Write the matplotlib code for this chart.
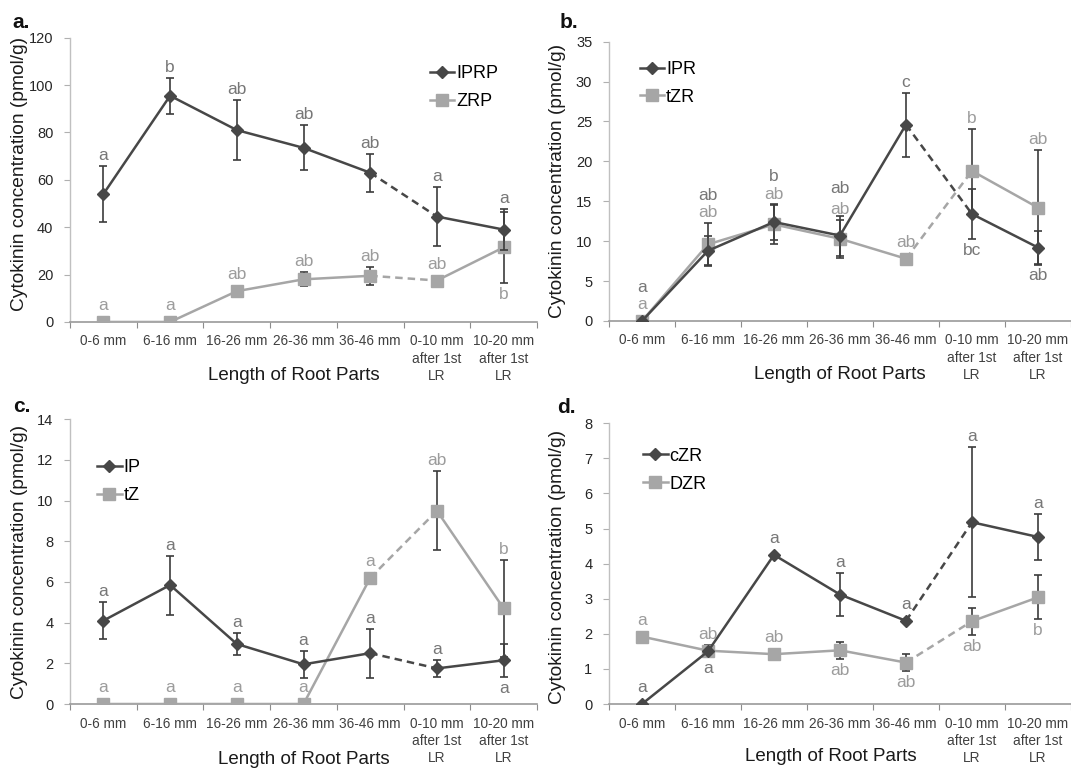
"""
根系不同部位细胞分裂素含量折线图（四个子图 a-d）
"""
import numpy as np
import matplotlib
matplotlib.use('Agg')
import matplotlib.pyplot as plt
from matplotlib.lines import Line2D

plt.rcParams['font.family'] = ['Liberation Sans', 'DejaVu Sans']

# 横轴分类
categories = ['0-6 mm', '6-16 mm', '16-26 mm', '26-36 mm', '36-46 mm',
              '0-10 mm\nafter 1st\nLR', '10-20 mm\nafter 1st\nLR']

# a. IPRP / ZRP
iprp = [54, 95.5, 81, 73.5, 63, 44.5, 39]
iprp_err = [12, 7.5, 12.5, 9.5, 8, 12.5, 8.5]
iprp_let = ['a', 'b', 'ab', 'ab', 'ab', 'a', 'a']
iprp_side = ['u', 'u', 'u', 'u', 'u', 'u', 'u']
zrp = [0, 0, 13, 18, 19.5, 17.5, 31.5]
zrp_err = [0, 0, 0, 3, 3.8, 0, 15]
zrp_let = ['a', 'a', 'ab', 'ab', 'ab', 'ab', 'b']
zrp_side = ['u', 'u', 'u', 'u', 'u', 'u', 'd']

# b. IPR / tZR
ipr = [0, 8.8, 12.4, 10.7, 24.6, 13.4, 9.2]
ipr_err = [0, 1.8, 2.2, 2.5, 4.0, 3.1, 2.1]
ipr_let = ['a', 'ab', 'b', 'ab', 'c', 'bc', 'ab']
ipr_side = ['U', 'U', 'U', 'U', 'u', 'd', 'd']
tzr = [0, 9.6, 12.1, 10.3, 7.8, 18.8, 14.2]
tzr_err = [0, 2.7, 2.4, 2.4, 0, 5.2, 7.2]
tzr_let = ['a', 'ab', 'ab', 'ab', 'ab', 'b', 'ab']
tzr_side = ['u', 'u', 'u', 'u', 'u', 'u', 'u']

# c. IP / tZ
ip = [4.1, 5.85, 2.95, 1.95, 2.5, 1.75, 2.15]
ip_err = [0.9, 1.45, 0.55, 0.65, 1.2, 0.4, 0.8]
ip_let = ['a', 'a', 'a', 'a', 'a', 'a', 'a']
ip_side = ['u', 'u', 'u', 'u', 'u', 'u', 'd']
tz = [0, 0, 0, 0, 6.2, 9.5, 4.7]
tz_err = [0, 0, 0, 0, 0, 1.95, 2.4]
tz_let = ['a', 'a', 'a', 'a', 'a', 'ab', 'b']
tz_side = ['u', 'u', 'u', 'u', 'u', 'u', 'u']

# d. cZR / DZR
czr = [0, 1.5, 4.25, 3.12, 2.37, 5.18, 4.76]
czr_err = [0, 0, 0, 0.6, 0, 2.13, 0.66]
czr_let = ['a', 'a', 'a', 'a', 'a', 'a', 'a']
czr_side = ['u', 'd', 'u', 'u', 'u', 'u', 'u']
dzr = [1.92, 1.52, 1.42, 1.53, 1.18, 2.36, 3.04]
dzr_err = [0, 0.15, 0, 0.25, 0.25, 0.39, 0.63]
dzr_let = ['a', 'ab', 'ab', 'ab', 'ab', 'ab', 'b']
dzr_side = ['u', 'u', 'u', 'd', 'd', 'd', 'd']

DARK = '#474747'
LIGHT = '#a6a6a6'
ERR = '#3c3c3c'
DARK_TXT = '#777777'
LIGHT_TXT = '#9c9c9c'


def draw_series(ax, x, y, err, color, marker, ms, z):
    """画一条折线：第4-5点之间用虚线连接"""
    ax.errorbar(x, y, yerr=err, fmt='none', ecolor=ERR, elinewidth=1.2,
                capsize=3, capthick=1.2, zorder=z)
    ax.plot(x[:5], y[:5], color=color, lw=1.8, zorder=z + 1)
    ax.plot(x[4:6], y[4:6], color=color, lw=1.8, ls=(0, (3, 2)), zorder=z + 1)
    ax.plot(x[5:], y[5:], color=color, lw=1.8, zorder=z + 1)
    ax.plot(x, y, ls='none', marker=marker, ms=ms, color=color,
            mec=color, zorder=z + 2)


def draw_letters(ax, x, series):
    """显著性字母，放在误差线上方或下方"""
    to_px = lambda v: ax.transData.transform((0, v))[1]
    line_px = 17
    gap = 6
    tops = [max(s[0][i] + s[1][i] for s in series) for i in range(len(x))]
    for y, err, lets, sides, col in series:
        for i in range(len(x)):
            v0 = to_px(y[i])
            e_px = max(to_px(y[i] + err[i]) - v0, 6)
            if sides[i] == 'u':
                off = e_px + gap
                va = 'baseline'
            elif sides[i] == 'U':
                off = max(to_px(tops[i]) - v0, 6) + gap + line_px
                va = 'baseline'
            else:
                off = -(e_px + gap - 2)
                va = 'top'
            ax.annotate(lets[i], (x[i], y[i]), xytext=(0, off * 72 / 100),
                        textcoords='offset points', ha='center', va=va,
                        fontsize=12.5, color=col, zorder=10)


def setup_axes(ax, ymax, ystep):
    """Excel 风格坐标轴"""
    n = len(categories)
    ax.set_xlim(-0.5, n - 0.5)
    ax.set_ylim(0, ymax)
    ax.set_yticks(np.arange(0, ymax + ystep / 2, ystep))
    ax.set_xticks(np.arange(-0.5, n, 1))
    ax.set_xticklabels([])
    ax.set_xticks(np.arange(n), minor=True)
    ax.set_xticklabels(categories, minor=True, fontsize=9.8, color='#404040',
                       linespacing=1.3)
    ax.tick_params(axis='x', which='major', length=4, color='#8c8c8c', direction='out')
    ax.tick_params(axis='x', which='minor', length=0, pad=9)
    ax.tick_params(axis='y', length=4, color='#b0b0b0', pad=8,
                   labelsize=10.5, labelcolor='#262626')
    for s in ['top', 'right']:
        ax.spines[s].set_visible(False)
    ax.spines['left'].set_color('#c0c0c0')
    ax.spines['bottom'].set_color('#9a9a9a')
    ax.spines['left'].set_linewidth(1.0)
    ax.spines['bottom'].set_linewidth(1.2)
    ax.set_xlabel('Length of Root Parts', fontsize=13.5, color='#1a1a1a')
    ax.set_ylabel('Cytokinin concentration (pmol/g)', fontsize=13.8, color='#1a1a1a')


fig = plt.figure(figsize=(10.71, 7.71), dpi=100)

panels = [
    # 标签, 位置, y上限, 步长, 深色, 浅色, 名称, 图例锚点, 标签坐标, 轴标题坐标
    ('a.', [0.0654, 0.5824, 0.436, 0.3687], 120, 20,
     (iprp, iprp_err, iprp_let, iprp_side), (zrp, zrp_err, zrp_let, zrp_side),
     ('IPRP', 'ZRP'), (0.771, 0.903), (12, 28), (0.48, -0.158, -0.09, 0.52)),
    ('b.', [0.5686, 0.5837, 0.4314, 0.3623], 35, 5,
     (ipr, ipr_err, ipr_let, ipr_side), (tzr, tzr_err, tzr_let, tzr_side),
     ('IPR', 'tZR'), (0.067, 0.931), (560, 28), (0.5, -0.161, -0.093, 0.5)),
    ('c.', [0.0654, 0.0869, 0.436, 0.3693], 14, 2,
     (ip, ip_err, ip_let, ip_side), (tz, tz_err, tz_let, tz_side),
     ('IP', 'tZ'), (0.058, 0.859), (13, 412), (0.5, -0.165, -0.09, 0.5)),
    ('d.', [0.5686, 0.0869, 0.4314, 0.3641], 8, 1,
     (czr, czr_err, czr_let, czr_side), (dzr, dzr_err, dzr_let, dzr_side),
     ('cZR', 'DZR'), (0.074, 0.913), (557, 413), (0.48, -0.158, -0.093, 0.49)),
]

x = np.arange(len(categories))
for tag, rect, ymax, ystep, dk, lt, names, leg_xy, tag_xy, lab in panels:
    ax = fig.add_axes(rect)
    setup_axes(ax, ymax, ystep)
    ax.xaxis.set_label_coords(lab[0], lab[1])
    ax.yaxis.set_label_coords(lab[2], lab[3])

    draw_series(ax, x, np.array(lt[0], float), np.array(lt[1], float), LIGHT, 's', 8, 2)
    draw_series(ax, x, np.array(dk[0], float), np.array(dk[1], float), DARK, 'D', 6.5, 5)
    draw_letters(ax, x, [(dk[0], dk[1], dk[2], dk[3], DARK_TXT),
                         (lt[0], lt[1], lt[2], lt[3], LIGHT_TXT)])

    handles = [Line2D([], [], color=DARK, lw=1.8, marker='D', ms=6.5),
               Line2D([], [], color=LIGHT, lw=1.8, marker='s', ms=8)]
    ax.legend(handles, names, loc='upper left', bbox_to_anchor=leg_xy,
              frameon=False, fontsize=13, handlelength=1.35, handletextpad=0.1,
              labelspacing=0.6, borderpad=0, borderaxespad=0)

    fig.text(tag_xy[0] / 1071, 1 - tag_xy[1] / 771, tag, fontsize=15,
             fontweight='bold', va='baseline', ha='left', color='#111111')

fig.savefig('out.png', dpi=100)
